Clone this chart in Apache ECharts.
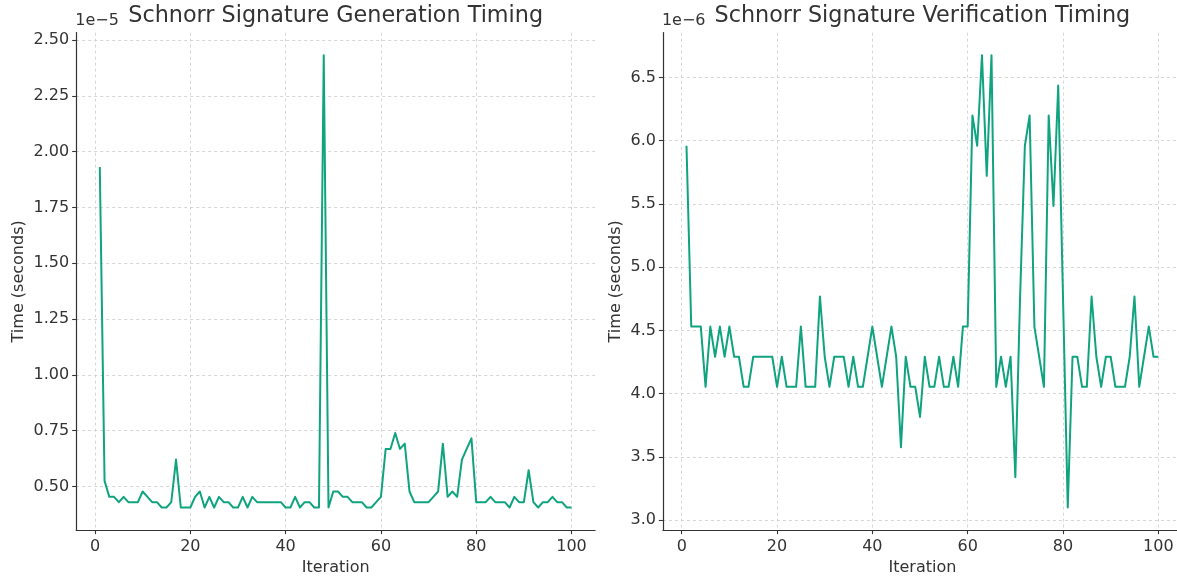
<!DOCTYPE html>
<html>
<head>
<meta charset="utf-8">
<title>Schnorr Signature Timing</title>
<script src="https://cdn.jsdelivr.net/npm/echarts@6/dist/echarts.min.js"></script>
<style>
  html, body { margin: 0; padding: 0; background: #ffffff; overflow: hidden; }
  /* the right-hand plot runs slightly past the window edge */
  #chart { width: 1195px; height: 581px; }
</style>
</head>
<body>
<div id="chart"></div>
<script>
// Iteration numbers 1..100
const iterations = [
  1, 2, 3, 4, 5, 6, 7, 8, 9, 10, 11, 12, 13, 14, 15, 16, 17, 18, 19, 20,
  21, 22, 23, 24, 25, 26, 27, 28, 29, 30, 31, 32, 33, 34, 35, 36, 37, 38, 39, 40,
  41, 42, 43, 44, 45, 46, 47, 48, 49, 50, 51, 52, 53, 54, 55, 56, 57, 58, 59, 60,
  61, 62, 63, 64, 65, 66, 67, 68, 69, 70, 71, 72, 73, 74, 75, 76, 77, 78, 79, 80,
  81, 82, 83, 84, 85, 86, 87, 88, 89, 90, 91, 92, 93, 94, 95, 96, 97, 98, 99, 100
];

// Signature generation time, in units of 1e-5 s
const generationTimes = [
  1.931, 0.5245, 0.4530, 0.4530, 0.4291, 0.4530, 0.4291, 0.4291, 0.4291, 0.4768,
  0.4530, 0.4291, 0.4291, 0.4053, 0.4053, 0.4291, 0.6199, 0.4053, 0.4053, 0.4053,
  0.4530, 0.4768, 0.4053, 0.4530, 0.4053, 0.4530, 0.4291, 0.4291, 0.4053, 0.4053,
  0.4530, 0.4053, 0.4530, 0.4291, 0.4291, 0.4291, 0.4291, 0.4291, 0.4291, 0.4053,
  0.4053, 0.4530, 0.4053, 0.4291, 0.4291, 0.4053, 0.4053, 2.432, 0.4053, 0.4768,
  0.4768, 0.4530, 0.4530, 0.4291, 0.4291, 0.4291, 0.4053, 0.4053, 0.4291, 0.4530,
  0.6676, 0.6676, 0.7391, 0.6676, 0.6914, 0.4768, 0.4291, 0.4291, 0.4291, 0.4291,
  0.4530, 0.4768, 0.6914, 0.4530, 0.4768, 0.4530, 0.6199, 0.6676, 0.7153, 0.4291,
  0.4291, 0.4291, 0.4530, 0.4291, 0.4291, 0.4291, 0.4053, 0.4530, 0.4291, 0.4291,
  0.5722, 0.4291, 0.4053, 0.4291, 0.4291, 0.4530, 0.4291, 0.4291, 0.4053, 0.4053
];

// Signature verification time, in units of 1e-6 s
const verificationTimes = [
  5.960, 4.530, 4.530, 4.530, 4.053, 4.530, 4.291, 4.530, 4.291, 4.530,
  4.291, 4.291, 4.053, 4.053, 4.291, 4.291, 4.291, 4.291, 4.291, 4.053,
  4.291, 4.053, 4.053, 4.053, 4.530, 4.053, 4.053, 4.053, 4.768, 4.291,
  4.053, 4.291, 4.291, 4.291, 4.053, 4.291, 4.053, 4.053, 4.291, 4.530,
  4.291, 4.053, 4.291, 4.530, 4.291, 3.576, 4.291, 4.053, 4.053, 3.815,
  4.291, 4.053, 4.053, 4.291, 4.053, 4.053, 4.291, 4.053, 4.530, 4.530,
  6.199, 5.960, 6.676, 5.722, 6.676, 4.053, 4.291, 4.053, 4.291, 3.338,
  4.768, 5.960, 6.199, 4.530, 4.291, 4.053, 6.199, 5.484, 6.437, 4.768,
  3.099, 4.291, 4.291, 4.053, 4.053, 4.768, 4.291, 4.053, 4.291, 4.291,
  4.053, 4.053, 4.053, 4.291, 4.768, 4.053, 4.291, 4.530, 4.291, 4.291
];

// Tick positions
const xTicks = [0, 20, 40, 60, 80, 100];
const generationTicks = [0.50, 0.75, 1.00, 1.25, 1.50, 1.75, 2.00, 2.25, 2.50];
const verificationTicks = [3.0, 3.5, 4.0, 4.5, 5.0, 5.5, 6.0, 6.5];

// Text
const titles = ['Schnorr Signature Generation Timing', 'Schnorr Signature Verification Timing'];
const offsetTexts = ['1e\u22125', '1e\u22126'];
const xName = 'Iteration';
const yName = 'Time (seconds)';

// Axis extent with 5% padding on each side of the data
function padded(values, frac) {
  const lo = Math.min.apply(null, values), hi = Math.max.apply(null, values);
  const pad = (hi - lo) * frac;
  return [lo - pad, hi + pad];
}

const FONT = '"DejaVu Sans", "Liberation Sans", sans-serif';
const INK = '#333333';
const LINE = '#10a37f';
const TICK_SIZE = 16;
const TITLE_SIZE = 22.3;

const xExt = padded(iterations, 0.05);
const genExt = padded(generationTimes, 0.05);
const verExt = padded(verificationTimes, 0.05);

const gridTop = 32.6, gridHeight = 501.6;
const grids = [
  { left: 76.2, top: gridTop, width: 518.9, height: gridHeight },
  { left: 662.9, top: gridTop, width: 519.0, height: gridHeight }
];

function pairs(xs, ys) { return xs.map((x, i) => [x, ys[i]]); }

const splitLine = { show: true, lineStyle: { color: '#cccccc', width: 0.8, type: [3, 3] } };
const axisLine = { show: true, onZero: false, lineStyle: { color: INK, width: 1.2 } };
const axisTickBase = { show: true, inside: false, length: 4, lineStyle: { color: INK, width: 1.1 } };
const labelBase = { color: INK, fontFamily: FONT, fontSize: TICK_SIZE };
const nameStyle = { color: INK, fontFamily: FONT, fontSize: TICK_SIZE };

function makeX(idx) {
  return {
    type: 'value', gridIndex: idx, min: xExt[0], max: xExt[1],
    axisLine: axisLine,
    axisTick: Object.assign({ customValues: xTicks }, axisTickBase),
    axisLabel: Object.assign({ customValues: xTicks, margin: 9, formatter: v => String(Math.round(v)) }, labelBase),
    splitLine: splitLine,
    name: xName, nameLocation: 'middle', nameGap: 29, nameTextStyle: nameStyle
  };
}

function makeY(idx, ext, ticks, digits, gap) {
  return {
    type: 'value', gridIndex: idx, min: ext[0], max: ext[1],
    axisLine: axisLine,
    axisTick: Object.assign({ customValues: ticks }, axisTickBase),
    axisLabel: Object.assign({ customValues: ticks, margin: 7, formatter: v => v.toFixed(digits) }, labelBase),
    splitLine: splitLine,
    name: yName, nameLocation: 'middle', nameGap: gap, nameRotate: 90, nameTextStyle: nameStyle
  };
}

const chart = echarts.init(document.getElementById('chart'), null, { renderer: 'canvas' });

chart.setOption({
  animation: false,
  backgroundColor: '#ffffff',
  grid: grids,
  xAxis: [makeX(0), makeX(1)],
  yAxis: [
    makeY(0, genExt, generationTicks, 2, 49),
    makeY(1, verExt, verificationTicks, 1, 39)
  ],
  series: [
    {
      type: 'line', xAxisIndex: 0, yAxisIndex: 0,
      data: pairs(iterations, generationTimes),
      showSymbol: false, symbol: 'none',
      lineStyle: { color: LINE, width: 2, join: 'round' }
    },
    {
      type: 'line', xAxisIndex: 1, yAxisIndex: 1,
      data: pairs(iterations, verificationTimes),
      showSymbol: false, symbol: 'none',
      lineStyle: { color: LINE, width: 2, join: 'round' }
    }
  ],
  graphic: [
    { type: 'text', x: grids[0].left + grids[0].width / 2, y: 27,
      style: { text: titles[0], fill: INK, font: TITLE_SIZE + 'px ' + FONT, textAlign: 'center', textVerticalAlign: 'bottom' } },
    { type: 'text', x: grids[1].left + grids[1].width / 2, y: 27,
      style: { text: titles[1], fill: INK, font: TITLE_SIZE + 'px ' + FONT, textAlign: 'center', textVerticalAlign: 'bottom' } },
    { type: 'text', x: grids[0].left - 1, y: 29,
      style: { text: offsetTexts[0], fill: INK, font: TICK_SIZE + 'px ' + FONT, textAlign: 'left', textVerticalAlign: 'bottom' } },
    { type: 'text', x: grids[1].left - 1, y: 29,
      style: { text: offsetTexts[1], fill: INK, font: TICK_SIZE + 'px ' + FONT, textAlign: 'left', textVerticalAlign: 'bottom' } }
  ]
});
</script>
</body>
</html>
